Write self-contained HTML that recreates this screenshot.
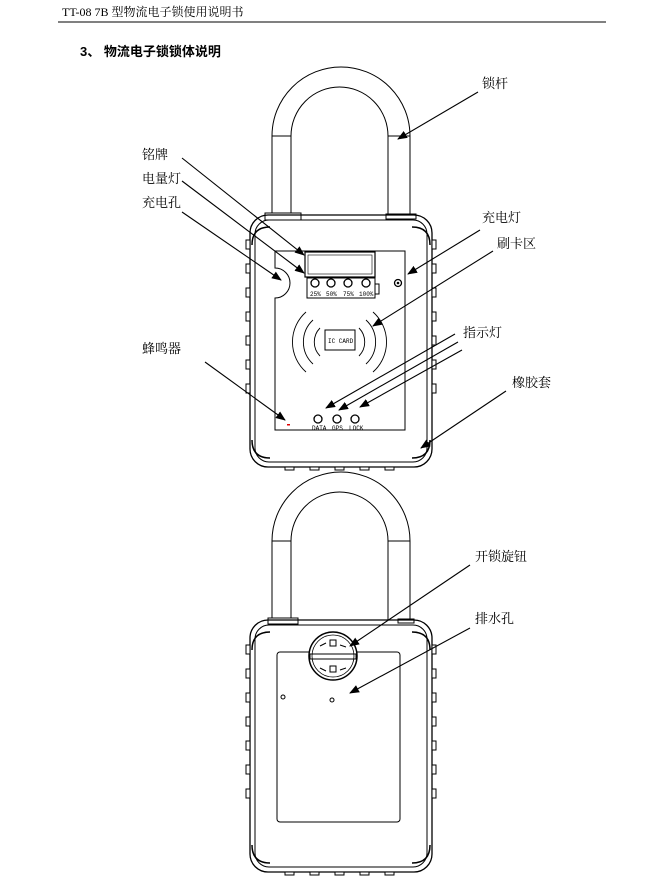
<!DOCTYPE html>
<html><head><meta charset="utf-8"><style>
body{margin:0;background:#fff}
svg{display:block}
text{font-family:"Liberation Serif","Noto Serif CJK SC","Noto Sans CJK SC",serif;font-size:13px;fill:#000}
text.s{font-family:"Liberation Mono",monospace;font-size:6px}
</style></head><body>
<svg width="661" height="888" viewBox="0 0 661 888" xmlns="http://www.w3.org/2000/svg">
<defs>
<marker id="a" markerWidth="10" markerHeight="8" refX="9" refY="4" orient="auto" markerUnits="userSpaceOnUse"><path d="M0,0 L10,4 L0,8 z" fill="#000"/></marker>
<g id="body">
 <rect x="250" y="215" width="182" height="252" rx="18" fill="none" stroke="#000" stroke-width="1.3"/>
 <rect x="255" y="220" width="172" height="242" rx="14" fill="none" stroke="#000" stroke-width="1"/>
 <path d="M252,245 q0,-18 18,-18 M430,245 q0,-18 -18,-18 M252,440 q0,18 18,18 M430,440 q0,18 -18,18" fill="none" stroke="#000" stroke-width="1.5"/>
 <g fill="#fff" stroke="#000" stroke-width="1">
  <rect x="246" y="240" width="4" height="9"/><rect x="246" y="264" width="4" height="9"/><rect x="246" y="288" width="4" height="9"/><rect x="246" y="312" width="4" height="9"/><rect x="246" y="336" width="4" height="9"/><rect x="246" y="360" width="4" height="9"/><rect x="246" y="384" width="4" height="9"/>
  <rect x="432" y="240" width="4" height="9"/><rect x="432" y="264" width="4" height="9"/><rect x="432" y="288" width="4" height="9"/><rect x="432" y="312" width="4" height="9"/><rect x="432" y="336" width="4" height="9"/><rect x="432" y="360" width="4" height="9"/><rect x="432" y="384" width="4" height="9"/>
  <rect x="285" y="467" width="9" height="3"/><rect x="310" y="467" width="9" height="3"/><rect x="335" y="467" width="9" height="3"/><rect x="360" y="467" width="9" height="3"/><rect x="385" y="467" width="9" height="3"/>
 </g>
</g>
<g id="shackle" fill="none" stroke="#000" stroke-width="1">
 <path d="M272,215 V136 A69,69 0 0 1 410,136 V215"/>
 <path d="M291,215 V136 A48.5,49 0 0 1 388,136 V215"/>
 <path d="M272,136 H291 M388,136 H410"/>
</g>
</defs>

<text x="62" y="16" style="font-size:12px">TT-08 7B 型物流电子锁使用说明书</text>
<line x1="58" y1="22" x2="606" y2="22" stroke="#000" stroke-width="1"/>
<text x="80" y="56" font-weight="bold" style="font-family:'Liberation Sans','Noto Sans CJK SC',sans-serif">3、 物流电子锁锁体说明</text>

<!-- top lock -->
<use href="#shackle"/>
<rect x="265" y="213" width="36" height="7" fill="#fff" stroke="#000"/>
<rect x="386" y="214" width="30" height="5" fill="#fff" stroke="#000"/>
<use href="#body"/>
<path d="M275,251 H405 V430 H275 V298 A15,15 0 0 0 275,268 Z" fill="#fff" stroke="#000" stroke-width="1"/>
<rect x="305" y="252" width="70" height="25" fill="none" stroke="#000" stroke-width="1.2"/>
<rect x="308" y="255" width="64" height="19" fill="none" stroke="#000" stroke-width="0.6"/>
<rect x="307" y="278" width="68" height="20" fill="none" stroke="#000" stroke-width="1"/>
<rect x="375" y="284" width="4" height="10" fill="none" stroke="#000"/>
<g fill="#fff" stroke="#000" stroke-width="1.3"><circle cx="315" cy="283" r="4"/><circle cx="331" cy="283" r="4"/><circle cx="348" cy="283" r="4"/><circle cx="366" cy="283" r="4"/><circle cx="398" cy="283" r="3.5"/></g>
<circle cx="398" cy="283" r="1.3"/>
<text class="s" x="310" y="296">25%</text><text class="s" x="326" y="296">50%</text><text class="s" x="343" y="296">75%</text><text class="s" x="359" y="296">100%</text>
<g fill="none" stroke="#000" stroke-width="0.9">
<path d="M306,312 A40,40 0 0 0 306,372"/><path d="M313,320 A30,30 0 0 0 313,364"/><path d="M320,328 A20,20 0 0 0 320,356"/>
<path d="M373,312 A40,40 0 0 1 373,372"/><path d="M366,320 A30,30 0 0 1 366,364"/><path d="M359,328 A20,20 0 0 1 359,356"/>
</g>
<rect x="325" y="330" width="30" height="20" fill="none" stroke="#000"/>
<text class="s" x="328" y="343">IC CARD</text>
<g fill="#fff" stroke="#000" stroke-width="1.3"><circle cx="318" cy="419" r="4"/><circle cx="337" cy="419" r="4"/><circle cx="355" cy="419" r="4"/></g>
<text class="s" x="312" y="430">DATA</text><text class="s" x="332" y="430">GPS</text><text class="s" x="349" y="430">LOCK</text>
<rect x="287" y="424" width="3" height="1.5" fill="#d00"/>

<!-- labels top -->
<text x="482" y="88">锁杆</text>
<text x="142" y="159">铭牌</text>
<text x="142" y="183">电量灯</text>
<text x="142" y="207">充电孔</text>
<text x="482" y="222">充电灯</text>
<text x="497" y="248">刷卡区</text>
<text x="463" y="337">指示灯</text>
<text x="142" y="353">蜂鸣器</text>
<text x="512" y="387">橡胶套</text>
<g stroke="#000" stroke-width="1.1" marker-end="url(#a)">
<line x1="478" y1="92" x2="398" y2="139"/>
<line x1="182" y1="158" x2="304" y2="255"/>
<line x1="182" y1="181" x2="304" y2="273"/>
<line x1="182" y1="212" x2="281" y2="280"/>
<line x1="480" y1="230" x2="408" y2="274"/>
<line x1="493" y1="251" x2="373" y2="326"/>
<line x1="455" y1="334" x2="326" y2="408"/>
<line x1="458" y1="342" x2="339" y2="410"/>
<line x1="462" y1="350" x2="360" y2="407"/>
<line x1="205" y1="362" x2="285" y2="420"/>
<line x1="506" y1="391" x2="421" y2="448"/>
</g>

<!-- bottom lock -->
<g transform="translate(0,405)"><use href="#shackle"/><rect x="268" y="213" width="30" height="6" fill="#fff" stroke="#000"/><rect x="398" y="214" width="16" height="4" fill="#fff" stroke="#000"/><use href="#body"/></g>
<rect x="277" y="652" width="123" height="170" rx="3" fill="#fff" stroke="#000"/>
<circle cx="333" cy="656" r="24" fill="#fff" stroke="#000" stroke-width="1.5"/>
<circle cx="333" cy="656" r="21" fill="none" stroke="#000" stroke-width="0.8"/>
<rect x="310" y="654" width="46" height="5" fill="none" stroke="#000"/>
<rect x="330" y="640" width="6" height="6" fill="none" stroke="#000"/>
<rect x="330" y="666" width="6" height="6" fill="none" stroke="#000"/>
<path d="M320,646 l6,-3 M340,645 l6,2 M320,668 l6,3 M340,670 l6,-2" stroke="#000" fill="none"/>
<circle cx="283" cy="697" r="2" fill="none" stroke="#000"/>
<circle cx="332" cy="700" r="2" fill="none" stroke="#000"/>
<text x="475" y="561">开锁旋钮</text>
<text x="475" y="623">排水孔</text>
<g stroke="#000" stroke-width="1.1" marker-end="url(#a)">
<line x1="470" y1="565" x2="350" y2="646"/>
<line x1="470" y1="628" x2="350" y2="693"/>
</g>
</svg>
</body></html>
